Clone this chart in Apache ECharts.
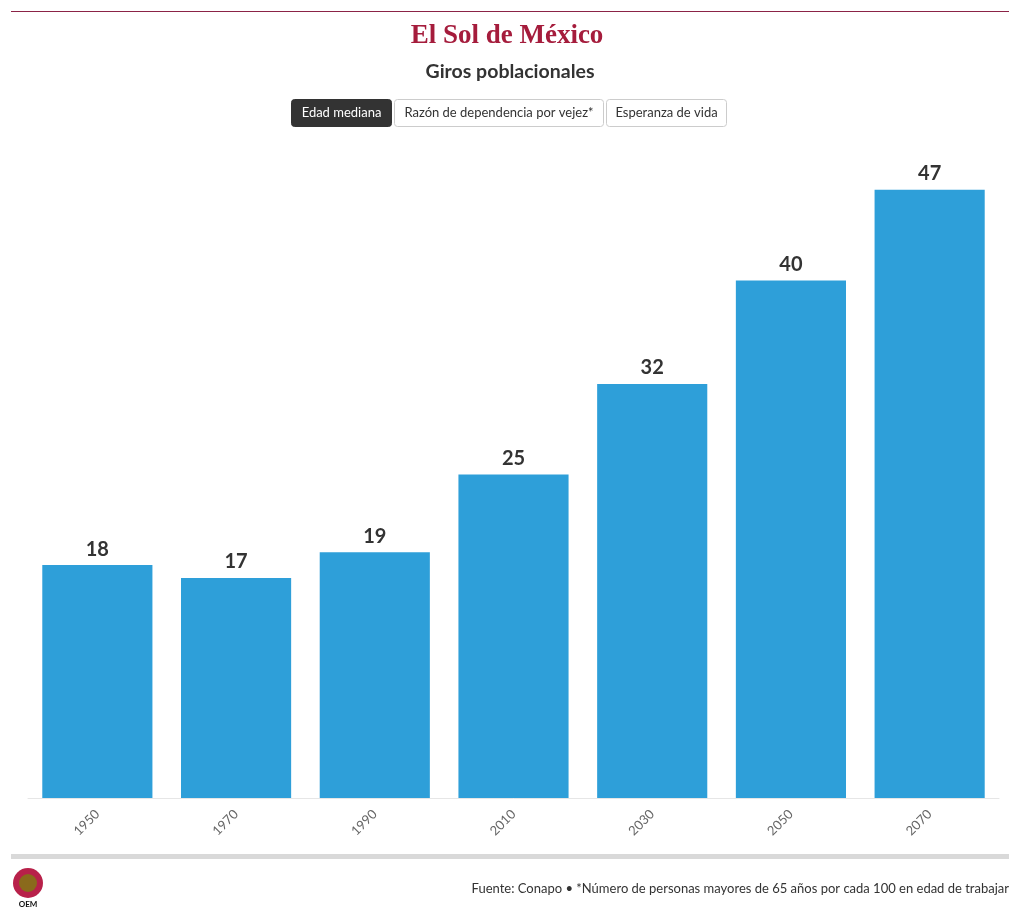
<!DOCTYPE html>
<html><head><meta charset="utf-8">
<script src="https://cdn.jsdelivr.net/npm/echarts@6/dist/echarts.min.js"></script>
<style>html,body{margin:0;padding:0;background:#fff}#c{width:1020px;height:923px}</style>
</head><body><div id="c"></div>
<script>
const categories = ['1950','1970','1990','2010','2030','2050','2070'];
const values = [18, 17, 19, 25, 32, 40, 47];
const title = 'Giros poblacionales';
const brand = 'El Sol de México';
const buttons = ['Edad mediana','Razón de dependencia por vejez*','Esperanza de vida'];
const footer = 'Fuente: Conapo • *Número de personas mayores de 65 años por cada 100 en edad de trabajar';

const FONT = 'Lato, "Open Sans", sans-serif';
const chart = echarts.init(document.getElementById('c'));

const btnGeom = [[291,100],[394,209],[606,120]];
const graphics = [
  {type:'line', shape:{x1:11,y1:11.5,x2:1009,y2:11.5}, style:{stroke:'#8b2346',lineWidth:1}},
  {type:'text', x:507, y:36, style:{text:brand, font:'bold 27px "Liberation Serif", serif', fill:'#a51c3c', textAlign:'center', textVerticalAlign:'middle'}},
  {type:'text', x:510, y:72, style:{text:title, font:'bold 19.5px '+FONT, fill:'#333', textAlign:'center', textVerticalAlign:'middle'}},
  {type:'rect', shape:{x:11,y:854,width:998,height:5}, style:{fill:'#d9d9d9'}},
  {type:'text', x:1009, y:889, style:{text:footer, font:'13px '+FONT, fill:'#333', textAlign:'right', textVerticalAlign:'middle'}},
  {type:'circle', shape:{cx:28,cy:883,r:15}, style:{fill:'#b8214a'}},
  {type:'circle', shape:{cx:28,cy:883,r:9}, style:{fill:'#8a6a1c'}},
  {type:'text', x:28, y:904, style:{text:'OEM', font:'bold 8px '+FONT, fill:'#111', textAlign:'center', textVerticalAlign:'middle'}}
];
buttons.forEach((b,i)=>{
  const [x,w] = btnGeom[i];
  const active = i===0;
  graphics.push({type:'rect', shape:{x:x+0.5,y:99.5,width:w,height:27,r:3},
    style:{fill: active?'#333':'#fff', stroke: active?'#333':'#ccc', lineWidth:1}});
  graphics.push({type:'text', x:x+w/2+0.5, y:113, style:{text:b, font:'13px '+FONT, fill: active?'#fff':'#333', textAlign:'center', textVerticalAlign:'middle'}});
});

chart.setOption({
  animation:false,
  grid:{left:28, right:21, top:151, bottom:125, containLabel:false},
  xAxis:{type:'category', data:categories,
    axisLine:{lineStyle:{color:'#e6e6e6'}},
    axisTick:{alignWithLabel:true, lineStyle:{color:'#e6e6e6'}, length:5},
    axisLabel:{rotate:45, color:'#666', fontSize:13, fontFamily:FONT, margin:14}},
  yAxis:{type:'value', min:0, max:50, show:false, splitLine:{show:false}},
  series:[{type:'bar', data:values, barCategoryGap:'20.6%',
    itemStyle:{color:'#2e9fd9'},
    label:{show:true, position:'top', distance:6, color:'#333', fontSize:20, fontWeight:'bold', fontFamily:FONT}}],
  graphic:graphics
});
</script></body></html>
